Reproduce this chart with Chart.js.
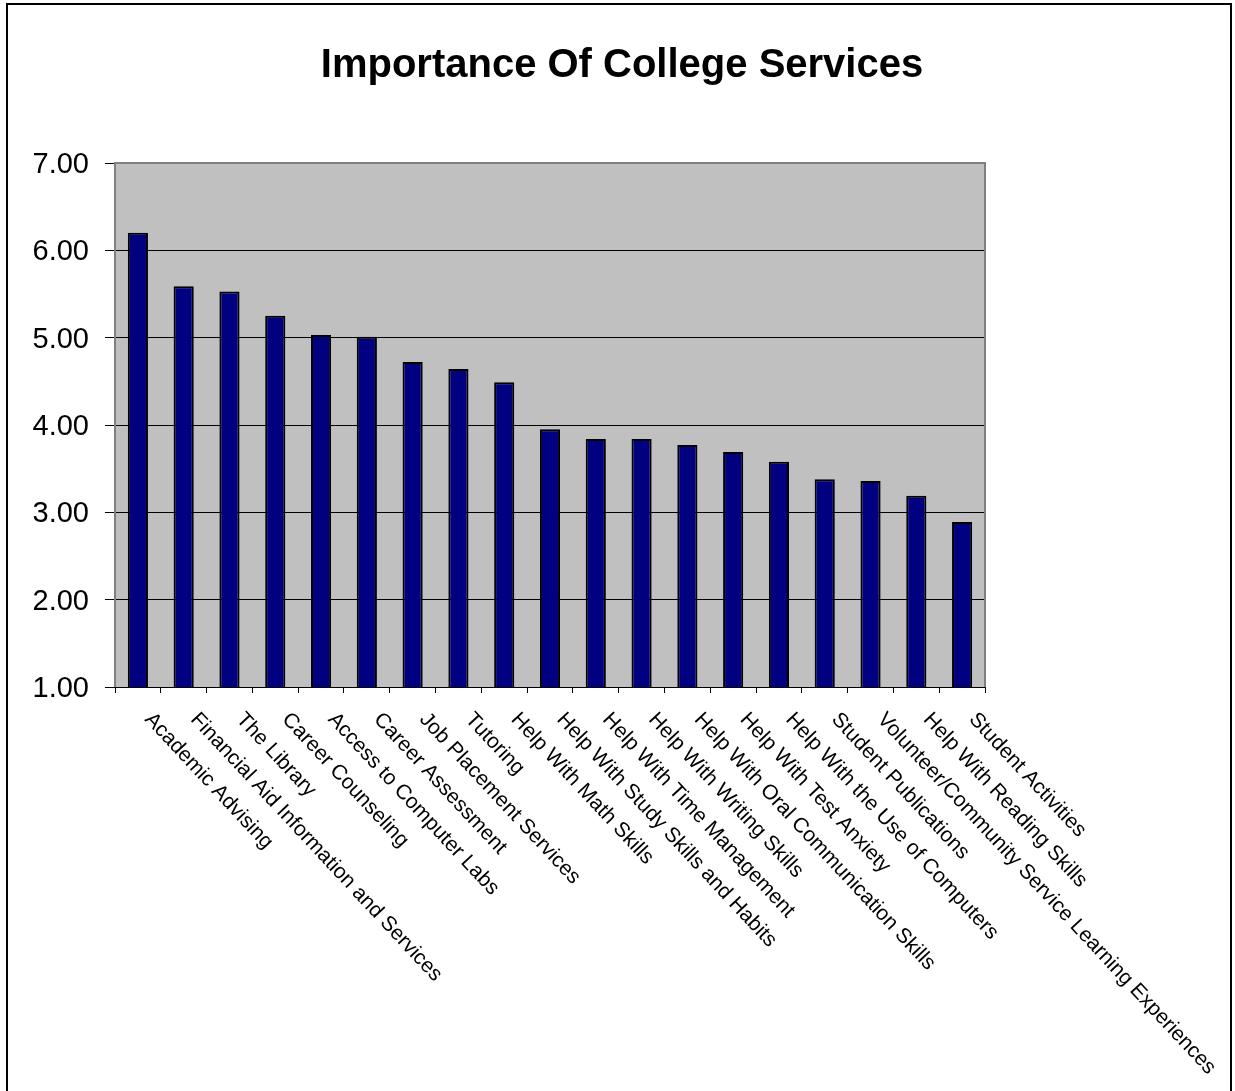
<!DOCTYPE html>
<html>
<head>
<meta charset="utf-8">
<title>Importance Of College Services</title>
<script src="https://cdn.jsdelivr.net/npm/chart.js@4.4.0/dist/chart.umd.min.js"></script>
<style>
  body { margin: 0; background: #fff; }
  canvas { display: block; }
</style>
</head>
<body>
<canvas id="servicesChart" width="1235" height="1091"></canvas>
<script>
const chartTitle = "Importance Of College Services";

const services = [
  "Academic Advising",
  "Financial Aid Information and Services",
  "The Library",
  "Career Counseling",
  "Access to Computer Labs",
  "Career Assessment",
  "Job Placement Services",
  "Tutoring",
  "Help With Math Skills",
  "Help With Study Skills and Habits",
  "Help With Time Management",
  "Help With Writing Skills",
  "Help With Oral Communication Skills",
  "Help With Test Anxiety",
  "Help With the Use of Computers",
  "Student Publications",
  "Volunteer/Community Service Learning Experiences",
  "Help With Reading Skills",
  "Student Activities",
];

const importance = [
  6.20, 5.59, 5.53, 5.25, 5.03, 5.01, 4.72, 4.64, 4.49, 3.95,
  3.84, 3.84, 3.77, 3.69, 3.58, 3.38, 3.36, 3.19, 2.89,
];

const yTicks = [1, 2, 3, 4, 5, 6, 7];

const FONT = "'Liberation Sans', Arial, sans-serif";

// grey plot area with its border, plus the outer frame
const plotBackground = {
  id: "plotBackground",
  beforeDraw(chart) {
    const { ctx, chartArea } = chart;
    ctx.save();
    ctx.fillStyle = "#ffffff";
    ctx.fillRect(0, 0, chart.width, chart.height);
    ctx.fillStyle = "#c0c0c0";
    ctx.fillRect(chartArea.left, chartArea.top, chartArea.width, chartArea.height);
    ctx.strokeStyle = "#000000";
    ctx.lineWidth = 2;
    ctx.strokeRect(7, 4, 1224, 1100);
    ctx.restore();
  },
  afterDatasetsDraw(chart) {
    const { ctx, chartArea } = chart;
    ctx.save();
    ctx.strokeStyle = "#808080";
    ctx.lineWidth = 2;
    ctx.beginPath();
    ctx.moveTo(chartArea.left, chartArea.bottom);
    ctx.lineTo(chartArea.left, chartArea.top);
    ctx.lineTo(chartArea.right, chartArea.top);
    ctx.lineTo(chartArea.right, chartArea.bottom);
    ctx.stroke();
    ctx.strokeStyle = "#000000";
    ctx.lineWidth = 1;
    ctx.beginPath();
    ctx.moveTo(chartArea.left - 10, chartArea.bottom + 0.5);
    ctx.lineTo(chartArea.right, chartArea.bottom + 0.5);
    ctx.stroke();
    ctx.restore();
  },
};

// title and the slanted category labels
const textLayer = {
  id: "textLayer",
  afterDraw(chart) {
    const { ctx, chartArea } = chart;
    const xScale = chart.scales.x;
    ctx.save();
    ctx.fillStyle = "#000000";
    ctx.font = "bold 40px " + FONT;
    ctx.textAlign = "center";
    ctx.textBaseline = "alphabetic";
    ctx.fillText(chartTitle, 622, 77);

    ctx.font = "21px " + FONT;
    ctx.textAlign = "left";
    ctx.textBaseline = "top";
    services.forEach((name, i) => {
      const cx = xScale.getPixelForValue(i);
      ctx.save();
      ctx.translate(cx + 18, chartArea.bottom + 22);
      ctx.rotate((47 * Math.PI) / 180);
      ctx.fillText(name, 0, 0);
      ctx.restore();
    });
    ctx.restore();
  },
};

const ctx = document.getElementById("servicesChart").getContext("2d");
const servicesChart = new Chart(ctx, {
  type: "bar",
  data: {
    labels: services,
    datasets: [
      {
        label: "Importance",
        data: importance,
        backgroundColor: "#000080",
        borderColor: "#000000",
        borderWidth: 2,
        barPercentage: 0.44,
        categoryPercentage: 1,
      },
    ],
  },
  options: {
    responsive: false,
    animation: false,
    layout: {
      padding: { top: 163, right: 250, bottom: 0, left: 0 },
    },
    plugins: {
      legend: { display: false },
      title: { display: false },
      tooltip: { enabled: false },
    },
    scales: {
      x: {
        offset: true,
        grid: {
          offset: true,
          drawOnChartArea: false,
          drawTicks: true,
          tickLength: 6,
          color: "#000000",
        },
        border: { display: false },
        ticks: { display: false },
        afterFit(scale) {
          scale.height = 404;
        },
      },
      y: {
        min: 1,
        max: 7,
        afterBuildTicks(scale) {
          scale.ticks = yTicks.map((v) => ({ value: v }));
        },
        grid: {
          color: (c) => (c.tick && c.tick.value === 7 ? "#808080" : "#000000"),
          tickColor: "#000000",
          tickLength: 10,
          lineWidth: 1,
        },
        border: { display: false },
        ticks: {
          padding: 16,
          labelOffset: 2,
          color: "#000000",
          font: { family: FONT, size: 29 },
          callback: (v) => Number(v).toFixed(2),
        },
        afterFit(scale) {
          scale.width = 115;
        },
      },
    },
  },
  plugins: [plotBackground, textLayer],
});
</script>
</body>
</html>
